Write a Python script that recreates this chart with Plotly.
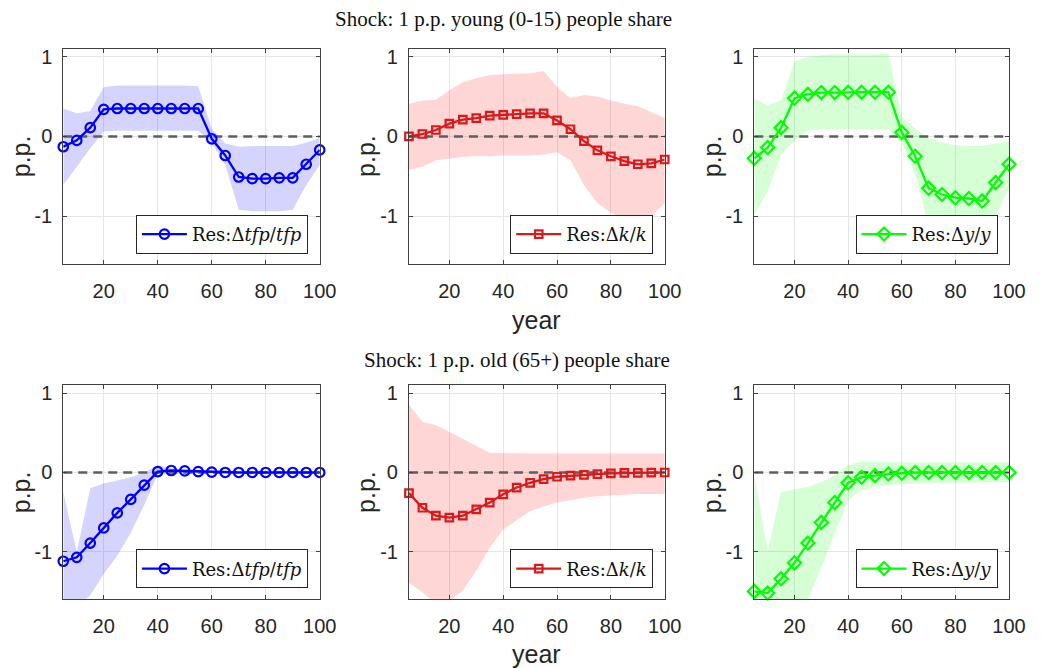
import plotly.graph_objects as go
from plotly.subplots import make_subplots

# ---------------- data ----------------
years = [5, 10, 15, 20, 25, 30, 35, 40, 45, 50, 55, 60, 65, 70, 75, 80, 85, 90, 95, 100]

# Shock: young share
young_tfp = [-0.13, -0.05, 0.11, 0.34, 0.35, 0.35, 0.35, 0.35, 0.35, 0.35, 0.35,
             -0.03, -0.24, -0.51, -0.53, -0.53, -0.52, -0.52, -0.35, -0.17]
young_tfp_hi = [0.35, 0.29, 0.32, 0.62, 0.64, 0.64, 0.64, 0.64, 0.64, 0.64, 0.63,
                0.10, -0.09, -0.13, -0.12, -0.12, -0.12, -0.12, -0.08, -0.02]
young_tfp_lo = [-0.61, -0.38, -0.15, 0.06, 0.07, 0.07, 0.07, 0.07, 0.07, 0.07, 0.07,
                -0.08, -0.36, -0.92, -0.94, -0.94, -0.94, -0.92, -0.61, -0.36]

young_k = [0.0, 0.03, 0.08, 0.16, 0.21, 0.23, 0.26, 0.27, 0.28, 0.29, 0.29,
           0.20, 0.09, -0.06, -0.175, -0.25, -0.31, -0.35, -0.34, -0.29]
young_k_hi = [0.41, 0.45, 0.46, 0.58, 0.68, 0.73, 0.77, 0.78, 0.79, 0.79, 0.82,
              0.62, 0.48, 0.52, 0.50, 0.45, 0.41, 0.38, 0.31, 0.23]
young_k_lo = [-0.42, -0.38, -0.30, -0.28, -0.26, -0.25, -0.25, -0.24, -0.24, -0.24, -0.23,
              -0.20, -0.30, -0.61, -0.84, -0.96, -1.05, -1.09, -1.00, -0.84]

young_y = [-0.275, -0.14, 0.11, 0.48, 0.53, 0.55, 0.55, 0.555, 0.555, 0.555, 0.555,
           0.05, -0.25, -0.65, -0.73, -0.77, -0.78, -0.81, -0.58, -0.35]
young_y_hi = [0.475, 0.39, 0.45, 0.94, 1.0, 1.02, 1.03, 1.03, 1.03, 1.03, 1.04,
              0.25, 0.10, -0.02, -0.08, -0.11, -0.12, -0.12, -0.09, -0.06]
young_y_lo = [-0.98, -0.69, -0.23, -0.05, 0.07, 0.09, 0.09, 0.09, 0.09, 0.09, 0.09,
              -0.07, -0.48, -1.11, -1.20, -1.22, -1.22, -1.20, -1.00, -0.65]

# Shock: old share
old_tfp = [-1.12, -1.07, -0.89, -0.70, -0.51, -0.34, -0.16, 0.01, 0.025, 0.02, 0.01,
           0.005, 0.0, 0.0, 0.0, 0.0, 0.0, 0.0, 0.0, 0.0]
old_tfp_hi = [-0.245, -1.0, -0.20, -0.14, -0.10, -0.06, 0.0, 0.09, 0.05, 0.03, 0.02,
              0.01, 0.01, 0.01, 0.01, 0.01, 0.01, 0.01, 0.01, 0.01]
old_tfp_lo = [-1.9, -1.7, -1.55, -1.28, -1.05, -0.76, -0.41, -0.02, -0.01, -0.01, -0.01,
              -0.005, -0.005, -0.005, -0.005, -0.005, -0.005, -0.005, -0.005, -0.005]

old_k = [-0.26, -0.445, -0.545, -0.57, -0.545, -0.465, -0.38, -0.275, -0.19, -0.13, -0.083,
         -0.054, -0.04, -0.03, -0.02, -0.012, -0.005, -0.004, -0.002, 0.0]
old_k_hi = [0.855, 0.64, 0.60, 0.51, 0.43, 0.34, 0.25, 0.245, 0.24, 0.24, 0.24,
            0.24, 0.24, 0.24, 0.24, 0.24, 0.24, 0.24, 0.24, 0.24]
old_k_lo = [-1.39, -1.51, -1.65, -1.62, -1.49, -1.24, -0.95, -0.72, -0.60, -0.49, -0.43,
            -0.38, -0.35, -0.32, -0.30, -0.29, -0.28, -0.27, -0.27, -0.27]

old_y = [-1.50, -1.52, -1.34, -1.14, -0.89, -0.63, -0.38, -0.13, -0.06, -0.04, -0.02,
         -0.01, 0.0, 0.0, 0.0, 0.0, 0.0, 0.0, 0.0, 0.0]
old_y_hi = [-0.03, -0.99, -0.25, -0.21, -0.18, -0.12, -0.04, 0.095, 0.14, 0.14, 0.13,
            0.13, 0.13, 0.13, 0.13, 0.13, 0.13, 0.13, 0.13, 0.13]
old_y_lo = [-2.0, -2.0, -2.0, -1.9, -1.6, -1.2, -0.78, -0.35, -0.22, -0.18, -0.16,
            -0.15, -0.14, -0.14, -0.13, -0.13, -0.13, -0.12, -0.12, -0.12]

x_ticks = [20, 40, 60, 80, 100]
y_ticks = [-1, 0, 1]
y_tick_labels = ["-1", "0", "1"]

row_titles = ["Shock: 1 p.p. young (0-15) people share",
              "Shock: 1 p.p. old (65+) people share"]
legend_names = ["Res:\u0394<i>tfp</i>/<i>tfp</i>",
                "Res:\u0394<i>k</i>/<i>k</i>",
                "Res:\u0394<i>y</i>/<i>y</i>"]

# ---------------- styling ----------------
W, H = 1047, 668
line_colors = ["#0000ff", "#d91a1a", "#00ff00"]
band_colors = ["rgba(0,0,255,0.17)", "rgba(255,0,0,0.16)", "rgba(0,255,0,0.16)"]
symbols = ["circle-open", "square-open", "diamond-open"]
msizes = [9.5, 7.5, 10]

col_px = [(64.3, 325.0), (415.7, 675.7), (766.7, 1025.7)]
row_px = [(46.0, 262.0), (384.0, 599.0)]
legend_right_px = [313, 664, 1014]
legend_bottom_px = [252, 588]

panels = [
    [(young_tfp, young_tfp_hi, young_tfp_lo),
     (young_k, young_k_hi, young_k_lo),
     (young_y, young_y_hi, young_y_lo)],
    [(old_tfp, old_tfp_hi, old_tfp_lo),
     (old_k, old_k_hi, old_k_lo),
     (old_y, old_y_hi, old_y_lo)],
]

fig = make_subplots(rows=2, cols=3)

axis_color = "#404040"
sans = "Liberation Sans, Arial, sans-serif"
tick_font = dict(family=sans, size=20, color="#262626")
serif = "Liberation Serif, Times New Roman, serif"
legend_serif = "DejaVu Serif, serif"

legend_idx = 0
for r in range(2):
    for c in range(3):
        legend_idx += 1
        lname = "legend" if legend_idx == 1 else f"legend{legend_idx}"
        vals, hi, lo = panels[r][c]
        # confidence band
        fig.add_trace(go.Scatter(
            x=years + years[::-1], y=hi + lo[::-1], fill="toself",
            fillcolor=band_colors[c], line=dict(width=0), mode="lines",
            hoverinfo="skip", showlegend=False), row=r + 1, col=c + 1)
        # zero reference line
        fig.add_trace(go.Scatter(
            x=[years[0], years[-1]], y=[0, 0], mode="lines",
            line=dict(color="#5e5e5e", width=2.5, dash="9px,6px"),
            hoverinfo="skip", showlegend=False), row=r + 1, col=c + 1)
        # response line
        fig.add_trace(go.Scatter(
            x=years, y=vals, mode="lines+markers", name=legend_names[c],
            line=dict(color=line_colors[c], width=2.3),
            marker=dict(symbol=symbols[c], size=msizes[c],
                        line=dict(color=line_colors[c], width=2.2)),
            cliponaxis=False, legend=lname, showlegend=True),
            row=r + 1, col=c + 1)

        x0, x1 = col_px[c]
        y0, y1 = row_px[r]
        ax_i = r * 3 + c + 1
        xa = "xaxis" if ax_i == 1 else f"xaxis{ax_i}"
        ya = "yaxis" if ax_i == 1 else f"yaxis{ax_i}"
        fig.layout[xa].update(
            domain=[x0 / W, x1 / W], range=[5, 100], tickvals=x_ticks,
            showgrid=True, gridcolor="#e6e6e6", gridwidth=1, zeroline=False,
            showline=True, linecolor=axis_color, linewidth=1, mirror="ticks",
            ticks="inside", ticklen=4, tickcolor=axis_color,
            tickfont=tick_font, ticklabelstandoff=9)
        fig.layout[ya].update(
            domain=[1 - y1 / H, 1 - y0 / H], range=[-1.6, 1.1],
            tickvals=y_ticks, ticktext=y_tick_labels,
            showgrid=True, gridcolor="#e6e6e6", gridwidth=1, zeroline=False,
            showline=True, linecolor=axis_color, linewidth=1, mirror="ticks",
            ticks="inside", ticklen=4, tickcolor=axis_color,
            tickfont=tick_font, ticklabelstandoff=6)

        fig.layout[lname] = dict(
            x=legend_right_px[c] / W, y=1 - legend_bottom_px[r] / H,
            xanchor="right", yanchor="bottom",
            bgcolor="white", bordercolor="#262626", borderwidth=1,
            font=dict(family=legend_serif, size=18, color="#111111"),
            tracegroupgap=0, itemsizing="trace", itemwidth=45)

        # y-label
        fig.add_annotation(
            x=(x0 - 43) / W, y=1 - ((y0 + y1) / 2) / H, xref="paper", yref="paper",
            text="p.p.", textangle=-90, showarrow=False,
            xanchor="center", yanchor="middle",
            font=dict(family=sans, size=25, color="#262626"))

# row titles
title_pos = [(512, 16), (526, 359)]
for t, (tx, ty) in zip(row_titles, title_pos):
    fig.add_annotation(x=tx / W, y=1 - ty / H, xref="paper", yref="paper",
                       text=t, showarrow=False, xanchor="center", yanchor="middle",
                       font=dict(family=serif, size=21, color="#111111"))

# x labels
for ty in [318, 654]:
    fig.add_annotation(x=545 / W, y=1 - ty / H, xref="paper", yref="paper",
                       text="year", showarrow=False, xanchor="center", yanchor="middle",
                       font=dict(family=sans, size=25, color="#262626"))

fig.update_layout(
    width=W, height=H, margin=dict(l=0, r=0, t=0, b=0),
    paper_bgcolor="white", plot_bgcolor="white",
)

fig.write_html("out.html")
